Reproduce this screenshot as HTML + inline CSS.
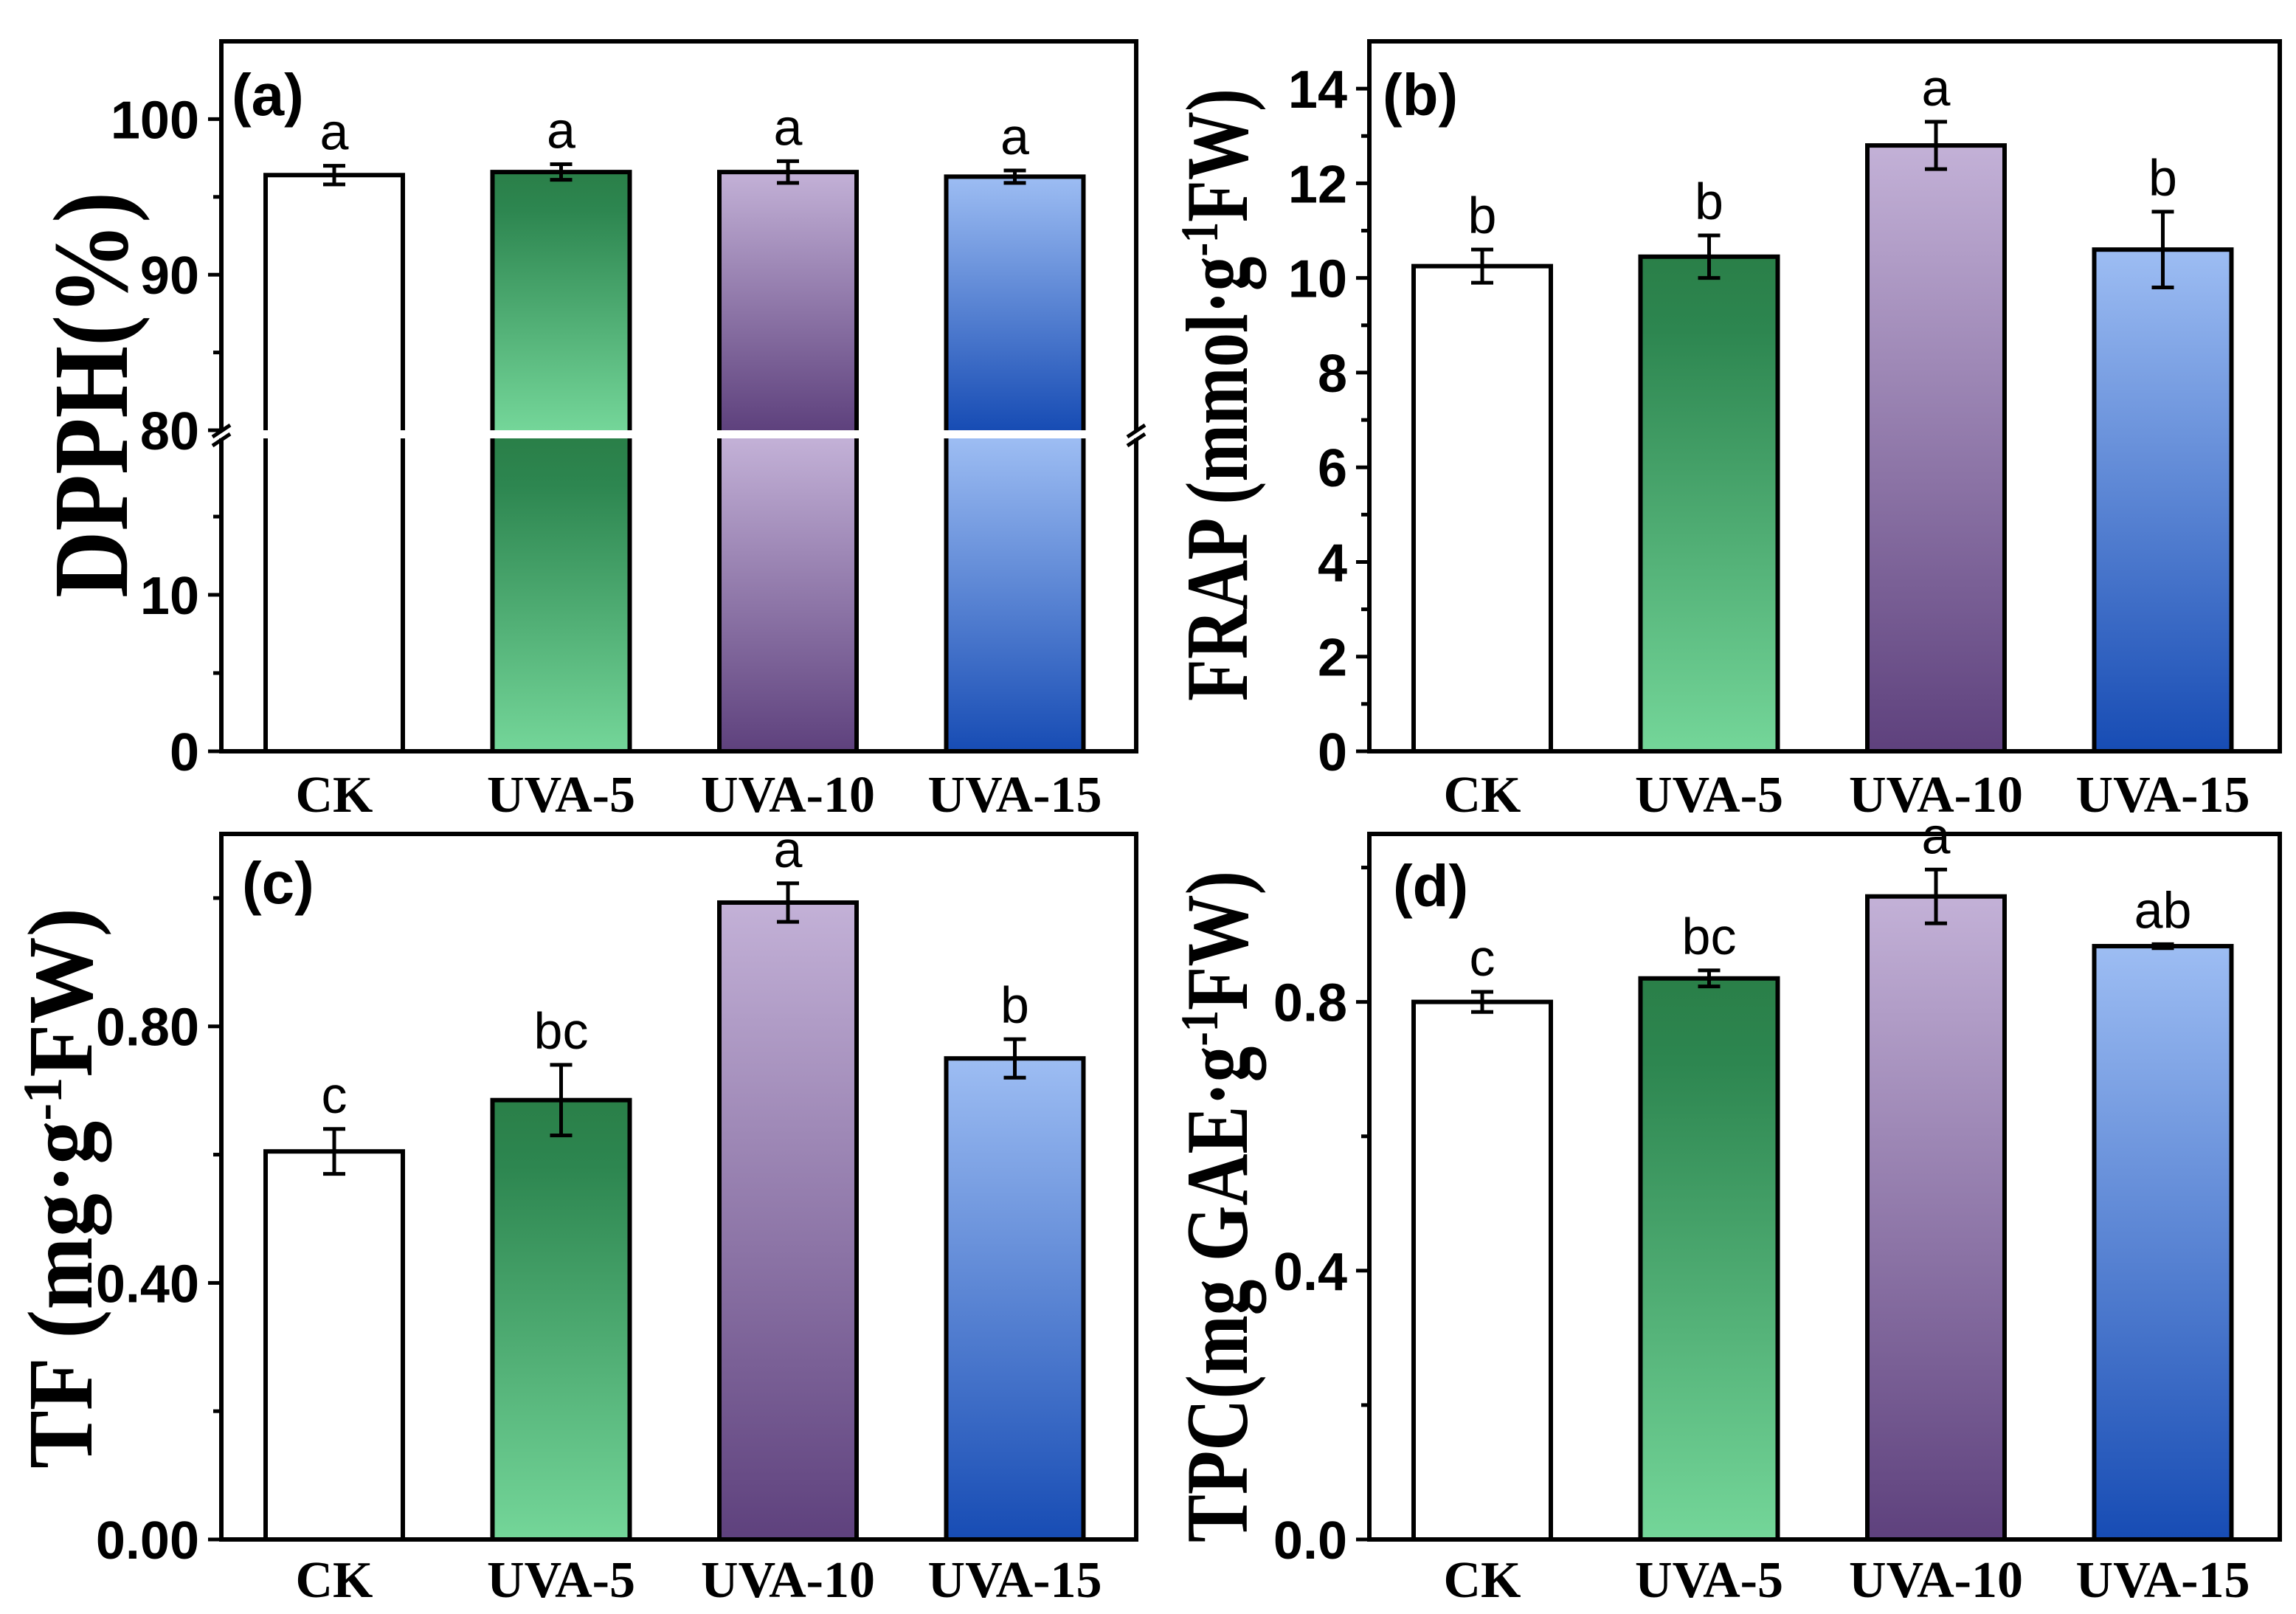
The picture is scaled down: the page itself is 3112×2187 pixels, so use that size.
<!DOCTYPE html>
<html><head><meta charset="utf-8"><style>
html,body{margin:0;padding:0;background:#fff;}
svg{display:block;}
</style></head><body>
<svg id="fig" width="3112" height="2187" viewBox="0 0 3112 2187" xmlns="http://www.w3.org/2000/svg">
<defs>
<linearGradient id="gGreen" x1="0" y1="0" x2="0" y2="1"><stop offset="0" stop-color="#2a7f48"/><stop offset="0.15" stop-color="#2d8650"/><stop offset="1" stop-color="#74d699"/></linearGradient>
<linearGradient id="gPurple" x1="0" y1="0" x2="0" y2="1"><stop offset="0" stop-color="#c3b1d7"/><stop offset="1" stop-color="#5e417d"/></linearGradient>
<linearGradient id="gBlue" x1="0" y1="0" x2="0" y2="1"><stop offset="0" stop-color="#9dbdf3"/><stop offset="1" stop-color="#174cb4"/></linearGradient>
</defs>
<g id="root"></g>
</svg>
<script>
const categories = ["CK","UVA-5","UVA-10","UVA-15"];
const dpphValues = [96.4, 96.6, 96.6, 96.3];
const dpphErrors = [0.6, 0.5, 0.7, 0.4];
const dpphLetters = ["a","a","a","a"];
const frapValues = [10.25, 10.45, 12.8, 10.6];
const frapErrors = [0.35, 0.45, 0.5, 0.8];
const frapLetters = ["b","b","a","b"];
const tfValues = [0.605, 0.685, 0.993, 0.750];
const tfErrors = [0.035, 0.055, 0.03, 0.03];
const tfLetters = ["c","bc","a","b"];
const tpcValues = [0.800, 0.835, 0.957, 0.883];
const tpcErrors = [0.015, 0.012, 0.04, 0.003];
const tpcLetters = ["c","bc","a","ab"];
const dpphUpperTicks = [80, 90, 100];
const dpphLowerTicks = [0, 10];
const frapTicks = [0, 2, 4, 6, 8, 10, 12, 14];
const tfTicks = ["0.00","0.40","0.80"];
const tpcTicks = ["0.0","0.4","0.8"];

const NS = "http://www.w3.org/2000/svg";
const root = document.getElementById("root");
const fills = ["#ffffff","url(#gGreen)","url(#gPurple)","url(#gBlue)"];
const barNames = ["bar-ck","bar-uva-5","bar-uva-10","bar-uva-15"];
function mk(tag, attrs, parent){
  const e = document.createElementNS(NS, tag);
  for (const k in attrs) e.setAttribute(k, attrs[k]);
  (parent||root).appendChild(e);
  return e;
}
function linScale(d0,d1,r0,r1){ return v => r0 + (v-d0)*(r1-r0)/(d1-d0); }
const BW = 186;
function barX(L,i){ return L + 153 + i*307.5; }

function frame(g,L,R,T,B){
  const f = mk("rect",{x:L,y:T,width:R-L,height:B-T,fill:"none",stroke:"#000","stroke-width":6},g);
  
  
}
function tick(g,L,y,major,label){
  const t = mk("line",{x1:L-(major?18:11),x2:L,y1:y,y2:y,stroke:"#000","stroke-width":5},g);
  
  
  if (label !== undefined){
    const tx = mk("text",{x:L-30,y:y+26,"text-anchor":"end","font-family":"Liberation Sans, sans-serif","font-weight":"bold","font-size":72},g);
    tx.textContent = label;
    
    
  }
}
function xLabels(g,L,base){
  categories.forEach((c,i)=>{
    const t = mk("text",{x:barX(L,i),y:base,"text-anchor":"middle","font-family":"Liberation Serif, serif","font-weight":"bold","font-size":70},g);
    t.textContent = c;
    
    
  });
}
function panelLabel(g,x,y,s){
  const t = mk("text",{x:x,y:y,"font-family":"Liberation Sans, sans-serif","font-weight":"bold","font-size":80},g);
  t.textContent = s;
  
  
}
function yTitle(g,x,cy,len,size,parts){
  const t = mk("text",{transform:`translate(${x},${cy}) rotate(-90)`,"text-anchor":"middle","font-family":"Liberation Serif, serif","font-weight":"bold","font-size":size,textLength:len,lengthAdjust:"spacingAndGlyphs"},g);
  parts.forEach(p=>{
    const s = mk("tspan",{},t);
    if (p.sup){ s.setAttribute("font-size", size*0.6); s.setAttribute("baseline-shift","super"); }
    s.textContent = p.t;
  });
  
  
}
function errBar(g,cx,yTop,yBot){
  const e = mk("g",{},g);
  
  
  mk("line",{x1:cx,x2:cx,y1:yTop,y2:yBot,stroke:"#000","stroke-width":5},e);
  mk("line",{x1:cx-15,x2:cx+15,y1:yTop,y2:yTop,stroke:"#000","stroke-width":5},e);
  mk("line",{x1:cx-15,x2:cx+15,y1:yBot,y2:yBot,stroke:"#000","stroke-width":5},e);
}
function sigLetter(g,cx,y,s){
  const t = mk("text",{x:cx,y:y,"text-anchor":"middle","font-family":"Liberation Sans, sans-serif","font-size":70},g);
  t.textContent = s;
  
  
}

function simplePanel(name,L,R,T,B,ymax,ticks,minorStep,values,errors,letters,labelBase){
  const g = mk("g",{});
  
  
  const y = linScale(0,ymax,B,T);
  values.forEach((v,i)=>{
    const cx = barX(L,i);
    const r = mk("rect",{x:cx-BW/2,y:y(v),width:BW,height:B-y(v),fill:fills[i],stroke:"#000","stroke-width":6},g);
    
    
    errBar(g,cx,y(v+errors[i]),y(v-errors[i]));
    sigLetter(g,cx,y(v+errors[i])-22,letters[i]);
  });
  ticks.forEach(tv=>{ tick(g,L,y(parseFloat(tv)),true,String(tv)); });
  const step = parseFloat(ticks[1]) - parseFloat(ticks[0]);
  for (let m = step/2; m < ymax; m += step){ tick(g,L,y(m),false); }
  frame(g,L,R,T,B);
  xLabels(g,L,labelBase);
  return g;
}

// Panel (a) with broken axis
(function(){
  const L=300,R=1540,T=56,B=1018;
  const g = mk("g",{});
  
  
  const yU = linScale(80,105,583,T);
  const yL = linScale(0,20,B,594);
  dpphValues.forEach((v,i)=>{
    const cx = barX(L,i);
    const top = yU(v);
    const r1 = mk("rect",{x:cx-BW/2,y:top,width:BW,height:yU(80)-top,fill:fills[i],stroke:"none"},g);
    
    
    const r2 = mk("rect",{x:cx-BW/2,y:yL(20),width:BW,height:B-yL(20),fill:fills[i],stroke:"none"},g);
    
    
    const o = mk("path",{d:`M${cx-BW/2},${yU(80)} V${top} H${cx+BW/2} V${yU(80)} M${cx-BW/2},${yL(20)} V${B} M${cx+BW/2},${yL(20)} V${B}`,fill:"none",stroke:"#000","stroke-width":6},g);
    
    
    errBar(g,cx,yU(v+dpphErrors[i]),yU(v-dpphErrors[i]));
    sigLetter(g,cx,yU(v+dpphErrors[i])-22,dpphLetters[i]);
  });
  dpphUpperTicks.forEach(tv=>tick(g,L,yU(tv),true,String(tv)));
  [85,95].forEach(m=>tick(g,L,yU(m),false));
  dpphLowerTicks.forEach(tv=>tick(g,L,yL(tv),true,String(tv)));
  [5,15].forEach(m=>tick(g,L,yL(m),false));
  frame(g,L,R,T,B);
  const gap = mk("rect",{x:L-4,y:584,width:R-L+8,height:10,fill:"#fff"},g);
  
  
  [L,R].forEach(x=>{
    const b = mk("path",{d:`M${x-12},${592} L${x+12},${576} M${x-12},${604} L${x+12},${588}`,stroke:"#000","stroke-width":5,fill:"none"},g);
    
    
  });
  xLabels(g,L,1100);
  panelLabel(g,314,156,"(a)");
  yTitle(g,172,535,550,145,[{t:"DPPH(%)"}]);
})();

const gb = simplePanel("panel-b-frap",1856,3090,56,1018,15,frapTicks,1,frapValues,frapErrors,frapLetters,1100);
panelLabel(gb,1874,156,"(b)");
yTitle(gb,1690,535,830,120,[{t:"FRAP (mmol·g"},{t:"-1",sup:true},{t:"FW)"}]);

const gc = simplePanel("panel-c-tf",300,1540,1130,2086,1.1,tfTicks,0.2,tfValues,tfErrors,tfLetters,2164);
panelLabel(gc,328,1224,"(c)");
yTitle(gc,124,1610,760,125,[{t:"TF (mg·g"},{t:"-1",sup:true},{t:"FW)"}]);

const gd = simplePanel("panel-d-tpc",1856,3090,1130,2086,1.05,tpcTicks,0.2,tpcValues,tpcErrors,tpcLetters,2164);
panelLabel(gd,1888,1228,"(d)");
yTitle(gd,1690,1635,910,120,[{t:"TPC(mg GAE·g"},{t:"-1",sup:true},{t:"FW)"}]);
</script>
</body></html>
